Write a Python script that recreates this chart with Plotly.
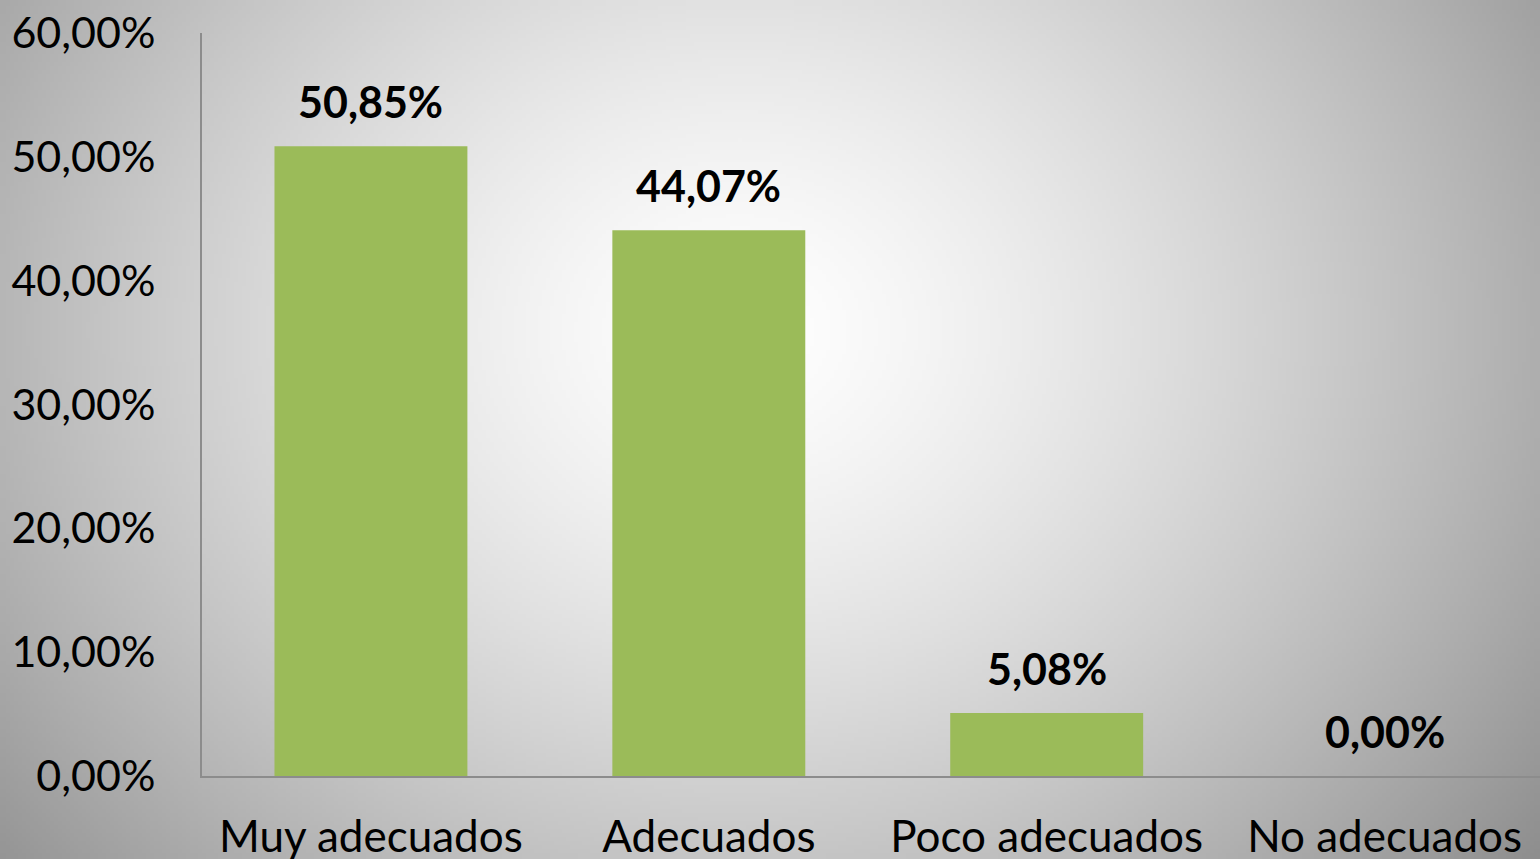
import base64
import struct
import zlib

import numpy as np
import plotly.graph_objects as go

categorias = ["Muy adecuados", "Adecuados", "Poco adecuados", "No adecuados"]
porcentajes = [0.5085, 0.4407, 0.0508, 0.0]
ticks_y = [0, 0.1, 0.2, 0.3, 0.4, 0.5, 0.6]

W, H = 1540, 859
ML, MR, MT, MB = 202, 0, 33, 83
FONT = "Lato"


def fondo_png(w=385, h=215):
    # degradado radial gris, claro en el centro
    xs = np.linspace(0, 1540, w)
    ys = np.linspace(0, 859, h)
    X, Y = np.meshgrid(xs, ys)
    d = np.sqrt(((X - 740) / 900) ** 2 + ((Y - 330) / 760) ** 2)
    g = 255 - 95 * np.clip(d, 0, 1.3) ** 1.4
    g = np.clip(g, 0, 255).astype(np.uint8)
    raw = b"".join(b"\x00" + row.tobytes() for row in g)

    def chunk(tag, data):
        c = struct.pack(">I", len(data)) + tag + data
        return c + struct.pack(">I", zlib.crc32(tag + data) & 0xFFFFFFFF)

    png = b"\x89PNG\r\n\x1a\n"
    png += chunk(b"IHDR", struct.pack(">IIBBBBB", w, h, 8, 0, 0, 0, 0))
    png += chunk(b"IDAT", zlib.compress(raw, 9))
    png += chunk(b"IEND", b"")
    return "data:image/png;base64," + base64.b64encode(png).decode()


fig = go.Figure()
fig.add_trace(go.Bar(
    x=categorias,
    y=porcentajes,
    marker=dict(color="#9bbb59", line=dict(width=0)),
    width=0.571,
    hoverinfo="skip",
))

for cat, val in zip(categorias, porcentajes):
    fig.add_annotation(
        x=cat, y=val, text=f"{val * 100:.2f}%".replace(".", ","),
        showarrow=False, yanchor="bottom", yshift=17,
        font=dict(family=FONT, size=43, color="black", weight="bold"),
    )

pw = W - ML - MR
ph = H - MT - MB
fig.add_layout_image(
    source=fondo_png(), xref="paper", yref="paper",
    x=-ML / pw, y=1 + MT / ph, sizex=W / pw, sizey=H / ph,
    xanchor="left", yanchor="top", sizing="stretch", layer="below",
)

fig.update_layout(
    width=W, height=H,
    margin=dict(l=ML, r=MR, t=MT, b=MB),
    paper_bgcolor="rgba(0,0,0,0)",
    plot_bgcolor="rgba(0,0,0,0)",
    separators=",.",
    showlegend=False,
    font=dict(family=FONT, size=43, color="black"),
)
fig.update_xaxes(
    range=[-0.5, 3.46],
    showline=True, linecolor="#8c8c8c", linewidth=2,
    showgrid=False, ticks="", ticklabelstandoff=21,
    tickfont=dict(size=44), automargin=False,
)
fig.update_yaxes(
    range=[0, 0.6], tickvals=ticks_y, tickformat=".2%",
    showline=True, linecolor="#8c8c8c", linewidth=2,
    showgrid=False, zeroline=False, ticks="", ticklabelstandoff=36,
    tickfont=dict(size=43), automargin=False,
)

fig.write_html(
    "out.html",
    config={"displayModeBar": False},
    post_script="document.body.style.margin='0';document.body.style.overflow='hidden';",
)
